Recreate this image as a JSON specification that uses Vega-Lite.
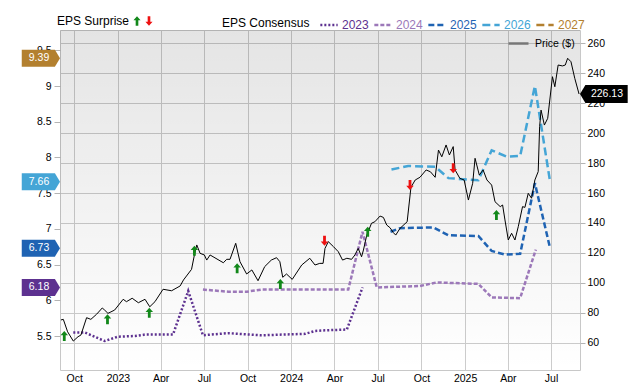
{
  "$schema": "https://vega.github.io/schema/vega-lite/v6.json",
  "width": 520,
  "height": 340,
  "autosize": {"type": "none"},
  "padding": {"left": 60, "top": 30, "right": 60, "bottom": 12},
  "config": {
    "font": "Liberation Sans",
    "view": {"stroke": "#c8c8c8"},
    "axis": {"labelFont": "Liberation Sans", "labelFontSize": 10.5, "labelColor": "#000000", "gridColor": "#cccccc", "tickColor": "#b4b4b4", "domain": false},
    "legend": {"labelFont": "Liberation Sans", "titleFont": "Liberation Sans", "titleFontWeight": "normal", "labelFontSize": 12, "titleFontSize": 12, "titleColor": "#000000", "labelColor": "#000000"}
  },
  "datasets": {
    "price": [
      {"date": "2022-09-03", "price": 75.2}, {"date": "2022-09-08", "price": 75.6}, {"date": "2022-09-17", "price": 67.3}, {"date": "2022-09-29", "price": 61.1},
      {"date": "2022-10-09", "price": 64.0}, {"date": "2022-10-15", "price": 65.1}, {"date": "2022-10-27", "price": 76.7}, {"date": "2022-11-05", "price": 75.6},
      {"date": "2022-11-17", "price": 79.0}, {"date": "2022-11-29", "price": 83.2}, {"date": "2022-12-04", "price": 81.8}, {"date": "2022-12-11", "price": 79.6},
      {"date": "2022-12-25", "price": 81.8}, {"date": "2023-01-12", "price": 89.0}, {"date": "2023-01-19", "price": 87.4}, {"date": "2023-01-31", "price": 89.7},
      {"date": "2023-02-13", "price": 86.7}, {"date": "2023-02-27", "price": 89.0}, {"date": "2023-03-09", "price": 84.0}, {"date": "2023-03-20", "price": 87.4},
      {"date": "2023-04-06", "price": 95.7}, {"date": "2023-04-24", "price": 94.7}, {"date": "2023-05-12", "price": 97.9}, {"date": "2023-05-19", "price": 101.9},
      {"date": "2023-06-05", "price": 109.0}, {"date": "2023-06-11", "price": 118.6}, {"date": "2023-06-16", "price": 125.3}, {"date": "2023-06-23", "price": 119.7},
      {"date": "2023-07-02", "price": 118.6}, {"date": "2023-07-07", "price": 115.2}, {"date": "2023-07-14", "price": 118.6}, {"date": "2023-08-11", "price": 113.4},
      {"date": "2023-08-18", "price": 115.7}, {"date": "2023-08-25", "price": 115.7}, {"date": "2023-09-06", "price": 126.4}, {"date": "2023-09-15", "price": 114.1},
      {"date": "2023-09-29", "price": 105.9}, {"date": "2023-10-10", "price": 108.6}, {"date": "2023-10-23", "price": 101.4}, {"date": "2023-11-06", "price": 110.8},
      {"date": "2023-11-20", "price": 115.2}, {"date": "2023-12-01", "price": 116.8}, {"date": "2023-12-08", "price": 114.1}, {"date": "2023-12-14", "price": 103.7},
      {"date": "2023-12-22", "price": 105.9}, {"date": "2024-01-03", "price": 102.3}, {"date": "2024-01-23", "price": 111.9}, {"date": "2024-02-09", "price": 116.4},
      {"date": "2024-02-20", "price": 111.9}, {"date": "2024-03-01", "price": 113.0}, {"date": "2024-03-08", "price": 113.0}, {"date": "2024-03-12", "price": 123.0},
      {"date": "2024-03-19", "price": 127.5}, {"date": "2024-03-30", "price": 124.1}, {"date": "2024-04-09", "price": 120.8}, {"date": "2024-04-18", "price": 115.2},
      {"date": "2024-04-27", "price": 116.4}, {"date": "2024-05-07", "price": 115.7}, {"date": "2024-05-14", "price": 118.6}, {"date": "2024-05-21", "price": 123.0},
      {"date": "2024-05-28", "price": 117.4}, {"date": "2024-06-01", "price": 121.9}, {"date": "2024-06-08", "price": 131.9}, {"date": "2024-06-18", "price": 139.8},
      {"date": "2024-06-25", "price": 140.8}, {"date": "2024-07-06", "price": 144.6}, {"date": "2024-07-13", "price": 143.7}, {"date": "2024-07-20", "price": 138.6},
      {"date": "2024-07-27", "price": 136.8}, {"date": "2024-08-03", "price": 133.5}, {"date": "2024-08-08", "price": 131.9}, {"date": "2024-08-17", "price": 136.4},
      {"date": "2024-09-01", "price": 140.8}, {"date": "2024-09-09", "price": 163.8}, {"date": "2024-09-18", "price": 168.7}, {"date": "2024-09-28", "price": 170.5},
      {"date": "2024-10-11", "price": 175.4}, {"date": "2024-10-20", "price": 174.2}, {"date": "2024-10-30", "price": 170.5}, {"date": "2024-11-06", "price": 188.7},
      {"date": "2024-11-13", "price": 184.2}, {"date": "2024-11-22", "price": 192.1}, {"date": "2024-11-29", "price": 185.4}, {"date": "2024-12-07", "price": 191.0},
      {"date": "2024-12-11", "price": 175.4}, {"date": "2024-12-21", "price": 169.8}, {"date": "2024-12-30", "price": 168.7}, {"date": "2025-01-08", "price": 155.3},
      {"date": "2025-01-17", "price": 166.5}, {"date": "2025-01-22", "price": 183.2}, {"date": "2025-01-31", "price": 172.0}, {"date": "2025-02-08", "price": 175.4},
      {"date": "2025-02-16", "price": 168.7}, {"date": "2025-02-26", "price": 165.3}, {"date": "2025-03-05", "price": 154.2}, {"date": "2025-03-16", "price": 150.9},
      {"date": "2025-03-21", "price": 152.0}, {"date": "2025-03-26", "price": 142.0}, {"date": "2025-04-02", "price": 128.6}, {"date": "2025-04-09", "price": 133.1},
      {"date": "2025-04-16", "price": 128.6}, {"date": "2025-04-23", "price": 137.5}, {"date": "2025-05-02", "price": 150.9}, {"date": "2025-05-07", "price": 150.4},
      {"date": "2025-05-14", "price": 159.8}, {"date": "2025-05-21", "price": 156.5}, {"date": "2025-05-28", "price": 168.7}, {"date": "2025-06-04", "price": 174.3},
      {"date": "2025-06-07", "price": 204.3}, {"date": "2025-06-10", "price": 215.4}, {"date": "2025-06-17", "price": 205.4}, {"date": "2025-06-24", "price": 209.9},
      {"date": "2025-07-04", "price": 237.7}, {"date": "2025-07-09", "price": 231.0}, {"date": "2025-07-16", "price": 245.5}, {"date": "2025-07-25", "price": 244.9},
      {"date": "2025-07-31", "price": 245.5}, {"date": "2025-08-05", "price": 250.0}, {"date": "2025-08-12", "price": 247.7}, {"date": "2025-08-20", "price": 236.6},
      {"date": "2025-08-29", "price": 226.13}
    ],
    "last": [{"date": "2025-08-29", "price": 226.13}],
    "surprise": [
      {"date": "2022-09-10", "price": 64.5, "type": "up"},
      {"date": "2022-12-10", "price": 75.6, "type": "up"},
      {"date": "2023-03-08", "price": 80.0, "type": "up"},
      {"date": "2023-06-11", "price": 121.5, "type": "up"},
      {"date": "2023-09-09", "price": 109.7, "type": "up"},
      {"date": "2023-12-09", "price": 99.2, "type": "up"},
      {"date": "2024-03-11", "price": 128.1, "type": "down"},
      {"date": "2024-06-10", "price": 134.1, "type": "up"},
      {"date": "2024-09-07", "price": 165.3, "type": "down"},
      {"date": "2024-12-07", "price": 176.5, "type": "down"},
      {"date": "2025-03-08", "price": 145.3, "type": "up"}
    ],
    "eps": [
      {"date": "2022-09-29", "year": "2023", "eps": 5.55}, {"date": "2022-10-23", "year": "2023", "eps": 5.55}, {"date": "2022-12-04", "year": "2023", "eps": 5.43},
      {"date": "2023-01-01", "year": "2023", "eps": 5.49}, {"date": "2023-02-06", "year": "2023", "eps": 5.50}, {"date": "2023-02-27", "year": "2023", "eps": 5.52},
      {"date": "2023-04-27", "year": "2023", "eps": 5.52}, {"date": "2023-05-29", "year": "2023", "eps": 6.13}, {"date": "2023-06-29", "year": "2023", "eps": 5.51},
      {"date": "2023-08-21", "year": "2023", "eps": 5.54}, {"date": "2023-10-30", "year": "2023", "eps": 5.51}, {"date": "2024-01-30", "year": "2023", "eps": 5.53},
      {"date": "2024-02-20", "year": "2023", "eps": 5.57}, {"date": "2024-03-12", "year": "2023", "eps": 5.58}, {"date": "2024-04-27", "year": "2023", "eps": 5.59},
      {"date": "2024-05-30", "year": "2023", "eps": 6.18},
      {"date": "2023-06-29", "year": "2024", "eps": 6.15}, {"date": "2023-08-21", "year": "2024", "eps": 6.12}, {"date": "2023-09-29", "year": "2024", "eps": 6.12},
      {"date": "2023-10-30", "year": "2024", "eps": 6.15}, {"date": "2024-04-30", "year": "2024", "eps": 6.15}, {"date": "2024-05-30", "year": "2024", "eps": 6.96},
      {"date": "2024-06-29", "year": "2024", "eps": 6.18}, {"date": "2024-09-28", "year": "2024", "eps": 6.20}, {"date": "2024-11-02", "year": "2024", "eps": 6.25},
      {"date": "2025-01-29", "year": "2024", "eps": 6.23}, {"date": "2025-02-26", "year": "2024", "eps": 6.04}, {"date": "2025-04-27", "year": "2024", "eps": 6.03},
      {"date": "2025-05-30", "year": "2024", "eps": 6.71},
      {"date": "2024-07-28", "year": "2025", "eps": 6.96}, {"date": "2024-08-17", "year": "2025", "eps": 7.01}, {"date": "2024-10-26", "year": "2025", "eps": 7.02},
      {"date": "2024-11-27", "year": "2025", "eps": 6.91}, {"date": "2025-01-29", "year": "2025", "eps": 6.90}, {"date": "2025-02-26", "year": "2025", "eps": 6.69},
      {"date": "2025-03-26", "year": "2025", "eps": 6.64}, {"date": "2025-04-27", "year": "2025", "eps": 6.65}, {"date": "2025-05-28", "year": "2025", "eps": 7.64},
      {"date": "2025-06-29", "year": "2025", "eps": 6.73},
      {"date": "2024-07-30", "year": "2026", "eps": 7.83}, {"date": "2024-09-03", "year": "2026", "eps": 7.88}, {"date": "2024-10-30", "year": "2026", "eps": 7.87},
      {"date": "2024-11-27", "year": "2026", "eps": 7.71}, {"date": "2025-01-29", "year": "2026", "eps": 7.68}, {"date": "2025-02-26", "year": "2026", "eps": 8.10},
      {"date": "2025-03-30", "year": "2026", "eps": 8.01}, {"date": "2025-04-27", "year": "2026", "eps": 8.02}, {"date": "2025-05-28", "year": "2026", "eps": 9.0},
      {"date": "2025-06-29", "year": "2026", "eps": 7.66}
    ],
    "badges": [
      {"year": "2027", "eps": 9.39},
      {"year": "2026", "eps": 7.66},
      {"year": "2025", "eps": 6.73},
      {"year": "2023", "eps": 6.18}
    ]
  },
  "layer": [
    {
      "data": {"values": [{}]},
      "mark": {"type": "rect", "color": {"gradient": "linear", "x1": 0, "y1": 0, "x2": 0, "y2": 1, "stops": [{"offset": 0, "color": "rgba(0,0,0,0.105)"}, {"offset": 1, "color": "rgba(0,0,0,0)"}]}},
      "encoding": {"x": {"value": 0}, "x2": {"value": "width"}, "y": {"value": 0}, "y2": {"value": "height"}}
    },
    {
      "layer": [
        {
          "data": {"name": "eps"},
          "mark": {"type": "line", "strokeWidth": 2.5},
          "encoding": {
            "x": {"field": "date", "type": "temporal", "scale": {"type": "utc", "domain": [{"year": 2022, "month": 9, "date": 1, "utc": true}, {"year": 2025, "month": 8, "date": 31, "utc": true}]},
              "axis": {"title": null, "grid": true, "ticks": false, "labelPadding": 3, "tickCount": {"interval": "month", "step": 3}, "labelExpr": "utcmonth(datum.value) == 0 ? utcFormat(datum.value, '%Y') : utcFormat(datum.value, '%b')"}},
            "y": {"field": "eps", "type": "quantitative", "scale": {"domain": [5.024, 9.784], "nice": false, "zero": false},
              "axis": {"orient": "left", "title": null, "grid": false, "values": [5.5, 6, 6.5, 7, 7.5, 8, 8.5, 9, 9.5], "format": "~g", "tickSize": 6, "labelPadding": 3, "zindex": 0}},
            "color": {"field": "year", "type": "nominal", "scale": {"domain": ["2023", "2024", "2025", "2026", "2027"], "range": ["#5d3190", "#9c78b9", "#1f63b3", "#44a5d6", "#b3802f"]},
              "legend": {"title": "EPS Consensus", "orient": "none", "legendX": 162, "legendY": -15, "direction": "horizontal", "titleOrient": "left", "symbolType": "stroke", "symbolStrokeWidth": 2.5, "symbolSize": 300, "labelOffset": 3, "columnPadding": 0, "titlePadding": 9,
                "encode": {"labels": {"update": {"fill": {"scale": "color", "field": "value"}}}}}},
            "strokeDash": {"field": "year", "type": "nominal", "scale": {"domain": ["2023", "2024", "2025", "2026", "2027"], "range": [[2, 2], [4, 2], [6, 3], [8, 4], [8, 4]]},
              "legend": {"title": "EPS Consensus", "orient": "none", "legendX": 162, "legendY": -15, "direction": "horizontal", "titleOrient": "left", "symbolType": "stroke", "symbolStrokeWidth": 2.5, "symbolSize": 300, "labelOffset": 3, "columnPadding": 0, "titlePadding": 9,
                "encode": {"labels": {"update": {"fill": {"scale": "color", "field": "value"}}}}}}
          }
        },
        {
          "data": {"name": "badges"},
          "mark": {"type": "point", "shape": "M0,0L-0.6,-1L-4.5,-1L-4.5,1L-0.6,1Z", "filled": true, "size": 289, "opacity": 1, "strokeWidth": 0},
          "encoding": {
            "x": {"value": 0},
            "y": {"field": "eps", "type": "quantitative", "scale": {"domain": [5.024, 9.784], "nice": false, "zero": false},
              "axis": {"orient": "left", "title": null, "grid": false, "values": [5.5, 6, 6.5, 7, 7.5, 8, 8.5, 9, 9.5], "format": "~g", "tickSize": 6, "labelPadding": 3, "zindex": 0}},
            "color": {"field": "year", "type": "nominal", "legend": null}
          }
        },
        {
          "data": {"name": "badges"},
          "mark": {"type": "text", "dx": -21, "align": "center", "baseline": "middle", "fontSize": 10.5, "color": "#ffffff"},
          "encoding": {
            "x": {"value": 0},
            "y": {"field": "eps", "type": "quantitative", "scale": {"domain": [5.024, 9.784], "nice": false, "zero": false},
              "axis": {"orient": "left", "title": null, "grid": false, "values": [5.5, 6, 6.5, 7, 7.5, 8, 8.5, 9, 9.5], "format": "~g", "tickSize": 6, "labelPadding": 3, "zindex": 0}},
            "text": {"field": "eps", "type": "quantitative", "format": ".2f"}
          }
        }
      ]
    },
    {
      "layer": [
        {
          "data": {"name": "price"},
          "mark": {"type": "line", "strokeWidth": 1, "color": "#000000"},
          "encoding": {
            "x": {"field": "date", "type": "temporal", "scale": {"type": "utc", "domain": [{"year": 2022, "month": 9, "date": 1, "utc": true}, {"year": 2025, "month": 8, "date": 31, "utc": true}]}},
            "y": {"field": "price", "type": "quantitative", "scale": {"domain": [41.76, 268.9], "nice": false, "zero": false},
              "axis": {"orient": "right", "title": null, "grid": true, "values": [60, 80, 100, 120, 140, 160, 180, 200, 220, 240, 260], "tickSize": 5, "labelPadding": 2, "zindex": 0}}
          }
        },
        {
          "data": {"values": []},
          "mark": {"type": "line", "strokeWidth": 2.5},
          "encoding": {
            "stroke": {"datum": "Price ($)", "type": "nominal", "scale": {"range": ["#777777"]},
              "legend": {"title": null, "orient": "none", "legendX": 447, "legendY": 2, "symbolType": "stroke", "symbolStrokeWidth": 2.5, "symbolSize": 400, "labelOffset": 5, "labelFontSize": 10.5}}
          }
        },
        {
          "data": {"name": "surprise"},
          "mark": {"type": "point", "filled": true, "size": 100, "opacity": 1, "strokeWidth": 0},
          "encoding": {
            "x": {"field": "date", "type": "temporal", "scale": {"type": "utc", "domain": [{"year": 2022, "month": 9, "date": 1, "utc": true}, {"year": 2025, "month": 8, "date": 31, "utc": true}]}},
            "y": {"field": "price", "type": "quantitative", "scale": {"domain": [41.76, 268.9], "nice": false, "zero": false},
              "axis": {"orient": "right", "title": null, "grid": true, "values": [60, 80, 100, 120, 140, 160, 180, 200, 220, 240, 260], "tickSize": 5, "labelPadding": 2, "zindex": 0}},
            "shape": {"field": "type", "type": "nominal", "scale": {"domain": ["up", "down"], "range": ["M0,-1L0.75,-0.15L0.28,-0.15L0.28,1L-0.28,1L-0.28,-0.15L-0.75,-0.15Z", "M0,1L0.75,0.15L0.28,0.15L0.28,-1L-0.28,-1L-0.28,0.15L-0.75,0.15Z"]},
              "legend": {"title": "EPS Surprise", "orient": "none", "legendX": -3, "legendY": -15, "direction": "horizontal", "titleOrient": "left", "labelExpr": "''", "symbolSize": 90, "labelOffset": 0, "columnPadding": 0, "titlePadding": 1, "symbolStrokeWidth": 0, "symbolOpacity": 1}},
            "fill": {"field": "type", "type": "nominal", "scale": {"domain": ["up", "down"], "range": ["#12881a", "#ee1111"]},
              "legend": {"title": "EPS Surprise", "orient": "none", "legendX": -3, "legendY": -15, "direction": "horizontal", "titleOrient": "left", "labelExpr": "''", "symbolSize": 90, "labelOffset": 0, "columnPadding": 0, "titlePadding": 1, "symbolStrokeWidth": 0, "symbolOpacity": 1}}
          }
        },
        {
          "data": {"name": "last"},
          "mark": {"type": "point", "shape": "M0,0L0.6,-1L5.3,-1L5.3,1L0.6,1Z", "filled": true, "size": 324, "color": "#000000", "opacity": 1, "strokeWidth": 0},
          "encoding": {
            "x": {"value": "width"},
            "y": {"field": "price", "type": "quantitative", "scale": {"domain": [41.76, 268.9], "nice": false, "zero": false},
              "axis": {"orient": "right", "title": null, "grid": true, "values": [60, 80, 100, 120, 140, 160, 180, 200, 220, 240, 260], "tickSize": 5, "labelPadding": 2, "zindex": 0}}
          }
        },
        {
          "data": {"name": "last"},
          "mark": {"type": "text", "dx": 27, "align": "center", "baseline": "middle", "fontSize": 10.5, "color": "#ffffff"},
          "encoding": {
            "x": {"value": "width"},
            "y": {"field": "price", "type": "quantitative", "scale": {"domain": [41.76, 268.9], "nice": false, "zero": false},
              "axis": {"orient": "right", "title": null, "grid": true, "values": [60, 80, 100, 120, 140, 160, 180, 200, 220, 240, 260], "tickSize": 5, "labelPadding": 2, "zindex": 0}},
            "text": {"field": "price", "type": "quantitative", "format": ".2f"}
          }
        }
      ]
    }
  ],
  "resolve": {"scale": {"y": "independent"}}
}
